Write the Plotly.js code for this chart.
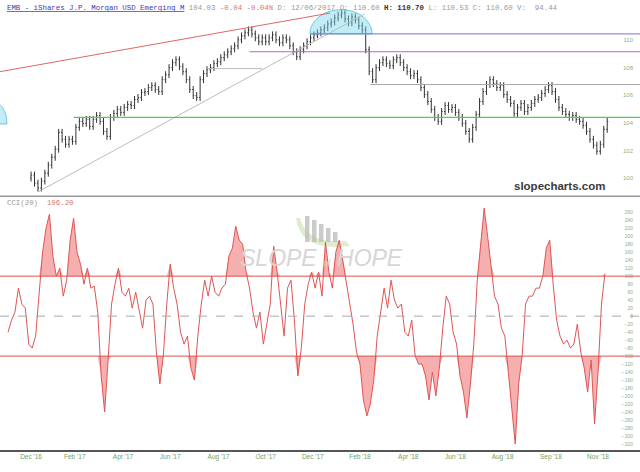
<!DOCTYPE html>
<html><head><meta charset="utf-8">
<script src="https://cdn.plot.ly/plotly-3.0.1.min.js"></script>
<style>html,body{margin:0;padding:0;background:#fff}#chart{width:640px;height:472px}</style>
</head><body><div id="chart"></div>
<script>
// ---- data (x = trading-day index) ----
const priceStart = 27, priceStep = 3;
const priceOpen = [100.00,100.22,99.64,99.28,99.79,100.36,100.94,101.51,102.09,103.31,
102.81,102.45,102.81,102.66,103.67,104.10,103.96,104.25,103.74,104.25,
104.53,104.10,103.38,103.02,104.39,104.68,104.97,104.75,105.11,105.33,
105.25,105.69,105.83,106.19,106.26,106.55,106.69,106.41,106.26,107.12,
107.48,107.99,108.35,108.56,108.06,107.70,107.12,106.41,105.97,105.83,
107.12,107.56,107.84,107.99,108.28,108.42,108.71,108.92,109.14,109.35,
109.57,110.00,110.29,110.51,110.72,110.43,110.15,109.86,110.15,109.86,
110.15,110.36,110.00,109.79,110.15,110.00,109.57,109.14,108.78,109.28,
109.57,109.86,110.15,110.36,110.51,110.72,110.87,111.15,111.30,111.59,
111.80,111.95,111.51,111.23,111.66,111.44,111.01,110.72,109.28,107.70,
107.12,107.99,108.35,108.56,108.28,108.13,108.56,108.71,108.35,107.99,
107.70,107.41,107.56,107.12,106.55,106.05,105.54,104.97,104.39,104.10,
104.82,105.25,104.97,105.11,104.75,104.39,103.96,103.38,102.81,103.67,
104.61,105.54,106.26,106.77,107.12,106.84,106.55,106.69,106.05,105.69,
105.40,104.68,105.11,105.40,104.82,105.11,105.40,105.69,105.83,106.12,
106.41,106.69,106.26,105.69,105.11,104.82,104.61,104.39,104.53,104.25,
104.10,103.82,103.38,102.81,102.38,101.95,102.45,103.53];
const priceHigh = [100.47,100.47,99.89,100.04,100.61,101.19,101.76,102.34,103.56,103.56,
103.06,103.06,103.06,103.92,104.35,104.35,104.50,104.50,104.50,104.78,
104.78,104.35,103.63,104.64,104.93,105.22,105.22,105.36,105.58,105.58,
105.94,106.08,106.44,106.51,106.80,106.94,106.94,106.66,107.37,107.73,
108.24,108.60,108.81,108.81,108.31,107.95,107.37,106.66,106.22,107.37,
107.81,108.09,108.24,108.53,108.67,108.96,109.17,109.39,109.60,109.82,
110.25,110.54,110.76,110.97,110.97,110.68,110.40,110.40,110.40,110.40,
110.61,110.61,110.25,110.40,110.40,110.25,109.82,109.39,109.53,109.82,
110.11,110.40,110.61,110.76,110.97,111.12,111.40,111.55,111.84,112.05,
112.20,112.20,111.76,111.91,111.91,111.69,111.26,110.97,109.53,107.95,
108.24,108.60,108.81,108.81,108.53,108.81,108.96,108.96,108.60,108.24,
107.95,107.81,107.81,107.37,106.80,106.30,105.79,105.22,104.64,105.07,
105.50,105.50,105.36,105.36,105.00,104.64,104.21,103.63,103.92,104.86,
105.79,106.51,107.02,107.37,107.37,107.09,106.94,106.94,106.30,105.94,
105.65,105.36,105.65,105.65,105.36,105.65,105.94,106.08,106.37,106.66,
106.94,106.94,106.51,105.94,105.36,105.07,104.86,104.78,104.78,104.50,
104.35,104.07,103.63,103.06,102.63,102.70,103.78,104.35];
const priceLow = [99.75,99.39,99.03,99.03,99.54,100.11,100.69,101.26,101.84,102.56,
102.20,102.20,102.41,102.41,103.42,103.71,103.71,103.49,103.49,104.00,
103.85,103.13,102.77,102.77,104.14,104.43,104.50,104.50,104.86,105.00,
105.00,105.44,105.58,105.94,106.01,106.30,106.16,106.01,106.01,106.87,
107.23,107.74,108.10,107.81,107.45,106.87,106.16,105.72,105.58,105.58,
106.87,107.31,107.59,107.74,108.03,108.17,108.46,108.67,108.89,109.10,
109.32,109.75,110.04,110.26,110.18,109.90,109.61,109.61,109.61,109.61,
109.90,109.75,109.54,109.54,109.75,109.32,108.89,108.53,108.53,109.03,
109.32,109.61,109.90,110.11,110.26,110.47,110.62,110.90,111.05,111.34,
111.55,111.26,110.98,110.98,111.19,110.76,110.47,109.03,107.45,106.87,
106.87,107.74,108.10,108.03,107.88,107.88,108.31,108.10,107.74,107.45,
107.16,107.16,106.87,106.30,105.80,105.29,104.72,104.14,103.85,103.85,
104.57,104.72,104.72,104.50,104.14,103.71,103.13,102.56,102.56,103.42,
104.36,105.29,106.01,106.52,106.59,106.30,106.30,105.80,105.44,105.15,
104.43,104.43,104.86,104.57,104.57,104.86,105.15,105.44,105.58,105.87,
106.16,106.01,105.44,104.86,104.57,104.36,104.14,104.14,104.00,103.85,
103.57,103.13,102.56,102.13,101.70,101.70,102.20,103.28];
const priceClose = [100.22,99.64,99.28,99.79,100.36,100.94,101.51,102.09,103.31,102.81,
102.45,102.81,102.66,103.67,104.10,103.96,104.25,103.74,104.25,104.53,
104.10,103.38,103.02,104.39,104.68,104.97,104.75,105.11,105.33,105.25,
105.69,105.83,106.19,106.26,106.55,106.69,106.41,106.26,107.12,107.48,
107.99,108.35,108.56,108.06,107.70,107.12,106.41,105.97,105.83,107.12,
107.56,107.84,107.99,108.28,108.42,108.71,108.92,109.14,109.35,109.57,
110.00,110.29,110.51,110.72,110.43,110.15,109.86,110.15,109.86,110.15,
110.36,110.00,109.79,110.15,110.00,109.57,109.14,108.78,109.28,109.57,
109.86,110.15,110.36,110.51,110.72,110.87,111.15,111.30,111.59,111.80,
111.95,111.51,111.23,111.66,111.44,111.01,110.72,109.28,107.70,107.12,
107.99,108.35,108.56,108.28,108.13,108.56,108.71,108.35,107.99,107.70,
107.41,107.56,107.12,106.55,106.05,105.54,104.97,104.39,104.10,104.82,
105.25,104.97,105.11,104.75,104.39,103.96,103.38,102.81,103.67,104.61,
105.54,106.26,106.77,107.12,106.84,106.55,106.69,106.05,105.69,105.40,
104.68,105.11,105.40,104.82,105.11,105.40,105.69,105.83,106.12,106.41,
106.69,106.26,105.69,105.11,104.82,104.61,104.39,104.53,104.25,104.10,
103.82,103.38,102.81,102.38,101.95,102.45,103.53,104.10];

const cciStart = 7, cciStep = 3;
const cci = [-40,-10,10,70,30,20,-70,-80,-50,50,
160,220,255,150,100,120,50,90,190,245,
160,130,80,120,70,75,10,-150,-240,-110,
30,80,120,60,50,70,20,60,10,-30,
40,50,30,-90,-170,-100,30,130,70,30,
-40,-70,-50,-130,-160,-50,30,90,50,100,
60,50,70,80,150,170,225,190,180,110,
70,10,-30,10,-70,-20,30,175,110,30,
-50,70,90,-10,-150,-80,30,80,110,70,
110,50,185,110,70,160,190,140,90,30,
-20,-90,-120,-210,-250,-220,-160,-50,10,70,
20,90,40,20,30,-40,-50,-10,-100,-120,
-120,-150,-210,-140,-200,-130,-30,50,30,-40,
-70,-150,-190,-255,-170,-70,90,190,270,200,
130,50,30,-30,-50,-140,-240,-320,-170,-100,
30,50,50,70,70,100,170,190,80,-10,
-50,-70,-60,-80,-70,-20,-90,-130,-190,-110,
-270,-140,30,106];

const tickIdx = [27,65,107,148,190,231,272,313,355,396,437,479,520];
const tickText = ["Dec '16","Feb '17","Apr '17","Jun '17","Aug '17","Oct '17","Dec '17","Feb '18","Apr '18","Jun '18","Aug '18","Sep '18","Nov '18"];
const priceTicks = [100,102,104,106,108,110];
const cciTicks = [-320,-300,-280,-260,-240,-220,-200,-180,-160,-140,-120,-100,-80,-60,-40,-20,0,20,40,60,80,100,120,140,160,180,200,220,240,260];

// drawings on the price panel (index, price)
const redTrend = {x:[0,287], y:[107.70,111.94]};
const grayTrend = {x:[33,317], y:[99.00,111.87]};
const hLevels = [
  {from:270, price:110.43, color:'#7474dc'},
  {from:217, price:109.14, color:'#c95fc9'},
  {from:322, price:106.77, color:'#aaaaaa'},
  {from:180, price:107.92, color:'#bbbbbb', to:228},
  {from:64,  price:104.39, color:'#4fd04f', width:1.3}
];
const arcCenter = {x:296.5, y:110.43, rx:27, ry:1.75};

// ---- build ----
const XMAX = 556.5;
const px = priceClose.map((_,i)=>priceStart+i*priceStep);
const cx = cci.map((_,i)=>cciStart+i*cciStep);
const upper = cci.map(v=>Math.max(v,100));
const lower = cci.map(v=>Math.min(v,-100));
const fillC = 'rgba(238,110,110,0.55)';

const traces = [
  {type:'scatter', x:cx, y:cx.map(()=>100), mode:'lines', line:{width:0}, hoverinfo:'skip', showlegend:false, xaxis:'x', yaxis:'y'},
  {type:'scatter', x:cx, y:upper, mode:'lines', line:{width:0}, fill:'tonexty', fillcolor:fillC, hoverinfo:'skip', showlegend:false, xaxis:'x', yaxis:'y'},
  {type:'scatter', x:cx, y:cx.map(()=>-100), mode:'lines', line:{width:0}, hoverinfo:'skip', showlegend:false, xaxis:'x', yaxis:'y'},
  {type:'scatter', x:cx, y:lower, mode:'lines', line:{width:0}, fill:'tonexty', fillcolor:fillC, hoverinfo:'skip', showlegend:false, xaxis:'x', yaxis:'y'},
  {type:'scatter', x:cx, y:cci, mode:'lines', line:{color:'#e05555', width:1}, showlegend:false, xaxis:'x', yaxis:'y'},
  {type:'ohlc', x:px, open:priceOpen, high:priceHigh, low:priceLow, close:priceClose,
   increasing:{line:{color:'#333', width:1}}, decreasing:{line:{color:'#333', width:1}},
   tickwidth:0.3, showlegend:false, xaxis:'x2', yaxis:'y2'}
];

function halfEllipse(cxv, cyv, rx, ry){
  let s = '';
  for (let k=0;k<=40;k++){
    const a = Math.PI*k/40;
    s += (k===0?'M':'L') + (cxv + rx*Math.cos(a)).toFixed(2) + ',' + (cyv + ry*Math.sin(a)).toFixed(3) + ' ';
  }
  return s + 'Z';
}

const PX = v => v/640, PY = v => (450-v)/445;
const shapes = [
  {type:'line', xref:'paper', yref:'paper', x0:0, x1:1, y0:0.5705, y1:0.5705, line:{color:'#9a9a9a', width:1.5}},
  {type:'line', xref:'x', yref:'y', x0:0, x1:XMAX, y0:100, y1:100, line:{color:'#d9534f', width:1}},
  {type:'line', xref:'x', yref:'y', x0:0, x1:XMAX, y0:-100, y1:-100, line:{color:'#d9534f', width:1}},
  {type:'line', xref:'x', yref:'y', x0:0, x1:XMAX, y0:0, y1:0, line:{color:'#aaaaaa', width:1, dash:'dash'}},
  {type:'path', xref:'x2', yref:'y2', path:halfEllipse(arcCenter.x, arcCenter.y, arcCenter.rx, arcCenter.ry), fillcolor:'rgba(120,215,235,0.45)', line:{color:'#6cc7dd', width:1}, layer:'above'},
  {type:'path', xref:'x2', yref:'y2', path:halfEllipse(-4, 103.92, 10, 1.5), fillcolor:'rgba(120,215,235,0.45)', line:{color:'#6cc7dd', width:1}, layer:'above'},
  {type:'line', xref:'x2', yref:'y2', x0:redTrend.x[0], x1:redTrend.x[1], y0:redTrend.y[0], y1:redTrend.y[1], line:{color:'#e06666', width:1}},
  {type:'line', xref:'x2', yref:'y2', x0:grayTrend.x[0], x1:grayTrend.x[1], y0:grayTrend.y[0], y1:grayTrend.y[1], line:{color:'#bbbbbb', width:1}},
  {type:'path', xref:'paper', yref:'paper', layer:'below',
   path:'M'+PX(296)+','+PY(218)+' Q'+PX(300)+','+PY(252)+' '+PX(350)+','+PY(246)+' L'+PX(346)+','+PY(241)+' Q'+PX(306)+','+PY(244)+' '+PX(300)+','+PY(218)+' Z',
   fillcolor:'rgba(200,225,170,0.6)', line:{width:0}}
];
[[305,216],[312,220],[319,224],[326,228],[333,232]].forEach(b=>shapes.push({type:'rect', xref:'paper', yref:'paper', layer:'below',
  x0:PX(b[0]), x1:PX(b[0]+4.5), y0:PY(242), y1:PY(b[1]), fillcolor:'rgba(185,185,185,0.75)', line:{width:0}}));
hLevels.forEach(h=>shapes.push({type:'line', xref:'x2', yref:'y2', x0:h.from, x1:(h.to||XMAX), y0:h.price, y1:h.price, line:{color:h.color, width:(h.width||1)}}));

const mono = 'Liberation Mono, DejaVu Sans Mono, monospace';
const NB = '\u00A0';
const hdr = '<span style="color:#3b3bb3;text-decoration:underline">EMB - iShares J.P. Morgan USD Emerging M</span>' + NB +
  '<span style="color:#999">104.03</span>' + NB +
  '<span style="color:#e07070">-0.04</span>' + NB +
  '<span style="color:#e07070">-0.04%</span>' + NB +
  '<span style="color:#999">D: 12/06/2017 O: 110.60</span>' + NB +
  '<b><span style="color:#333">H: 110.70</span></b>' + NB +
  '<span style="color:#999">L: 110.53 C: 110.60 V:' + NB + NB + '94.44</span>';

const layout = {
  width:640, height:472,
  margin:{l:0, r:0, t:5, b:22},
  paper_bgcolor:'#fff', plot_bgcolor:'#fff',
  showlegend:false,
  xaxis:{domain:[0,1], range:[0,XMAX], anchor:'y', tickvals:tickIdx, ticktext:tickText, showgrid:false, zeroline:false,
         showline:true, linecolor:'#555', linewidth:1.5, ticks:'', tickfont:{size:6.5, color:'#6d9f6d', family:'Liberation Sans, Arial'}},
  xaxis2:{domain:[0,1], range:[0,XMAX], anchor:'y2', matches:'x', showticklabels:false, showgrid:false, zeroline:false, showline:false, rangeslider:{visible:false}},
  yaxis:{domain:[0,0.568], range:[-335,297.5], side:'right', ticklabelposition:'inside', ticklabelstandoff:4, tickvals:cciTicks, showgrid:false, zeroline:false, showline:false,
         ticks:'', tickfont:{size:5, color:'#8ab08a', family:'Liberation Sans, Arial'}},
  yaxis2:{domain:[0.573,1], range:[98.78,112.52], side:'right', ticklabelposition:'inside', ticklabelstandoff:4, anchor:'x2', tickvals:priceTicks, showgrid:false, zeroline:false, showline:false,
         ticks:'', tickfont:{size:6, color:'#8ab08a', family:'Liberation Sans, Arial'}},
  shapes:shapes,
  annotations:[
    {xref:'paper', yref:'paper', x:0.008, y:0.993, xanchor:'left', yanchor:'middle', showarrow:false, text:hdr, font:{family:mono, size:7.4}},
    {xref:'paper', yref:'paper', x:0.008, y:0.556, xanchor:'left', yanchor:'middle', showarrow:false,
     text:'<span style="color:#999">CCI(20)</span>' + NB + NB + '<span style="color:#e07070">106.20</span>', font:{family:mono, size:7.4}},
    {xref:'paper', yref:'paper', x:0.948, y:0.594, xanchor:'right', yanchor:'middle', showarrow:false,
     text:'<b>slopecharts.com</b>', font:{family:'Liberation Sans, Arial', size:11.5, color:'#3a3a3a'}},
    {xref:'paper', yref:'paper', x:0.503, y:0.432, xanchor:'center', yanchor:'middle', showarrow:false,
     text:'<i>SLOPE</i> <span style="font-size:9px;color:#cfe3b8">of</span> <i>HOPE</i>', font:{family:'Liberation Sans, Arial', size:23, color:'#d6d6d6'}}
  ]
};
Plotly.newPlot('chart', traces, layout, {staticPlot:true, displayModeBar:false});
</script></body></html>
